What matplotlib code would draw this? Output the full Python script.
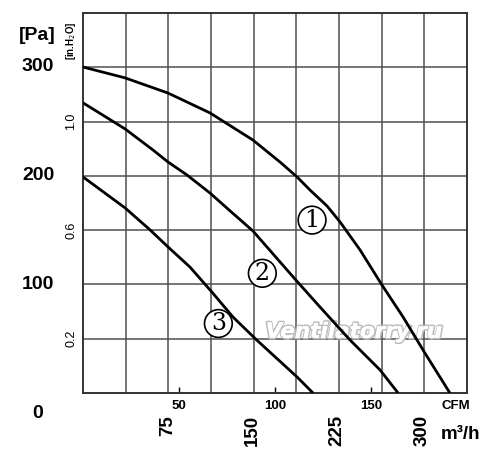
import matplotlib
matplotlib.use("Agg")
import matplotlib.pyplot as plt
import matplotlib.patheffects as pe
import matplotlib.transforms as mtransforms
import numpy as np

# curve data: flow in CFM, pressure in inH2O
cfm_1 = [0, 21.9, 44.3, 66.1, 88.5, 102.6, 111.5, 118.2, 127.1, 133.9, 144.3, 155.7, 166.7, 178.1, 191.1]
inh2o_1 = [1.201, 1.161, 1.105, 1.032, 0.932, 0.851, 0.796, 0.748, 0.689, 0.630, 0.527, 0.398, 0.280, 0.147, 0.0]

cfm_2 = [0, 21.9, 36.5, 44.3, 54.2, 66.1, 76.6, 88.5, 102.6, 110.9, 123.4, 133.3, 139.1, 154.7, 164.1]
inh2o_2 = [1.069, 0.973, 0.895, 0.851, 0.803, 0.737, 0.671, 0.597, 0.483, 0.416, 0.317, 0.240, 0.195, 0.085, 0.0]

cfm_3 = [0, 21.9, 34.9, 44.3, 55.7, 67.0, 78.1, 90.5, 111.5, 119.8]
inh2o_3 = [0.796, 0.682, 0.601, 0.538, 0.464, 0.373, 0.280, 0.195, 0.059, 0.0]

curves = [(cfm_1, inh2o_1), (cfm_2, inh2o_2), (cfm_3, inh2o_3)]
curve_names = ["1", "2", "3"]
name_pos = [(119.3, 0.637), (93.4, 0.441), (70.5, 0.256)]

cfm_ticks = [50, 100, 150]
inh2o_ticks = [0.2, 0.6, 1.0]
m3h_ticks = [75, 150, 225, 300]
pa_ticks = [0, 100, 200, 300]

CFM_MAX = 200
INH2O_MAX = 1.4
M3H_PER_CFM = 1.699
PA_PER_INH2O = 249.1

lib = "Liberation Sans"

fig = plt.figure(figsize=(5.0, 4.61), dpi=100)
ax = fig.add_axes([0.166, 0.1475, 0.768, 0.8243])
ax.set_xlim(0, CFM_MAX)
ax.set_ylim(0, INH2O_MAX)

# grid: 9 columns, 7 rows
for gx in np.linspace(0, CFM_MAX, 10)[1:-1]:
    ax.axvline(gx, color="#505050", lw=1.1, zorder=1)
for gy in np.arange(0.2, INH2O_MAX, 0.2):
    ax.axhline(gy, color="#505050", lw=1.1, zorder=1)

for s in ax.spines.values():
    s.set_color("#333333")
    s.set_linewidth(1.4)

# watermark
ax.text(141, 0.225, "Ventilatorry.ru", fontsize=15.5, style="italic", fontweight="bold",
        family="DejaVu Sans", color="white", ha="center", va="center", zorder=2,
        path_effects=[pe.withStroke(linewidth=2.2, foreground="#bdbdbd")])
ax.text(141, 0.225, "Ventilatorry.ru", fontsize=15.5, style="italic", fontweight="bold",
        family="DejaVu Sans", color="white", ha="center", va="center", zorder=2)

for x, y in curves:
    ax.plot(x, y, color="black", lw=2.0, zorder=3, solid_capstyle="butt")

for name, (x, y) in zip(curve_names, name_pos):
    ax.text(x, y, name, fontsize=17, family="DejaVu Serif", ha="center", va="center",
            zorder=4, bbox=dict(boxstyle="circle,pad=0.1", fc="white", ec="black", lw=1.2))

# CFM ticks
ax.set_xticks(cfm_ticks)
ax.set_xticklabels([str(v) for v in cfm_ticks], fontweight="bold", fontsize=9.5, family=lib)
ax.tick_params(axis="x", direction="in", length=4, width=1, pad=5)
ax.set_yticks([])

# inH2O labels on the left
for v in inh2o_ticks:
    ax.text(-0.031, v, f"{v:.1f}", transform=ax.get_yaxis_transform(), rotation=90,
            ha="center", va="center", fontsize=9, family=lib)
ax.text(-0.032, 1.30, "[in.H$_2$O]", transform=ax.get_yaxis_transform(), rotation=90,
        ha="center", va="center", fontsize=7, fontweight="bold", family=lib)

# Pa labels
for v in pa_ticks:
    off = mtransforms.ScaledTranslation(0, -25 / 100 if v == 0 else -5 / 100, fig.dpi_scale_trans)
    ax.text(-0.117, v / PA_PER_INH2O, str(v), transform=ax.get_yaxis_transform() + off,
            ha="center", va="baseline", fontsize=14, fontweight="bold", family=lib)
ax.text(-0.12, 0.942, "[Pa]", transform=ax.transAxes, ha="center", va="center",
        fontsize=14, fontweight="bold", family=lib)

# m3/h labels
for v in m3h_ticks:
    ax.text(v / M3H_PER_CFM, -0.058, str(v), transform=ax.get_xaxis_transform(), rotation=90,
            ha="center", va="top", fontsize=13.5, fontweight="bold", family=lib)
ax.text(0.97, -0.035, "CFM", transform=ax.transAxes, ha="center", va="center",
        fontsize=9.5, fontweight="bold", family=lib)
ax.text(0.982, -0.11, "m³/h", transform=ax.transAxes, ha="center", va="center",
        fontsize=13.5, fontweight="bold", family=lib)

fig.savefig("out.png", dpi=100)
